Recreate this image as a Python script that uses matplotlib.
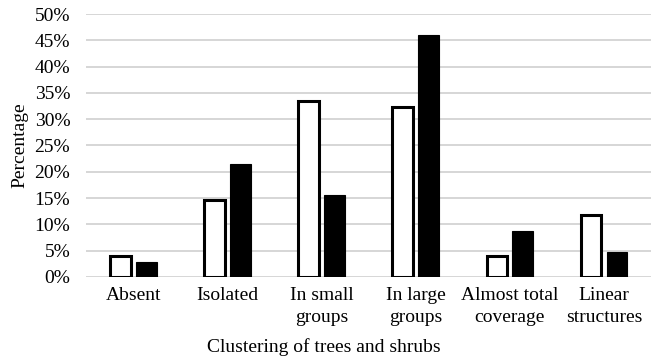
import matplotlib.pyplot as plt
import numpy as np

plt.rcParams['font.family'] = ['Liberation Serif', 'DejaVu Serif']

# clustering classes and share of sites (%) in the two groups
categories = ['Absent', 'Isolated', 'In small\ngroups', 'In large\ngroups',
              'Almost total\ncoverage', 'Linear\nstructures']
series_open = [3.9, 14.7, 33.4, 32.4, 3.9, 11.7]
series_filled = [2.85, 21.5, 15.5, 46.1, 8.7, 4.75]
yticks = np.arange(0, 51, 5)

fig = plt.figure(figsize=(6.68, 3.6), dpi=100)
ax = fig.add_axes([0.129, 0.2306, 0.8456, 0.7305])

x = np.arange(len(categories))
w = 0.22
gap = 0.055
ax.bar(x - (w + gap) / 2, series_open, w, facecolor='white', edgecolor='black',
       linewidth=2.2, zorder=3)
ax.bar(x + (w + gap) / 2, series_filled, w, facecolor='black', edgecolor='black',
       linewidth=0.8, zorder=3)

ax.set_xlim(-0.5, len(categories) - 0.5)
ax.set_ylim(0, 50)
ax.set_yticks(yticks)
ax.set_yticklabels([f'{v}%' for v in yticks])
ax.yaxis.grid(True, color='#d0d0d0', linewidth=1.2, zorder=0)
ax.set_xticks(x)
ax.set_xticklabels(categories, linespacing=1.4)
ax.tick_params(axis='both', length=0, labelsize=14)
ax.tick_params(axis='y', pad=11.5)
ax.tick_params(axis='x', pad=7)
for s in ax.spines.values():
    s.set_visible(False)

# axis titles
fig.text(20 / 668, 1 - 145 / 360, 'Percentage', rotation=90, fontsize=14,
         ha='center', va='center')
fig.text(324 / 668, 1 - 347 / 360, 'Clustering of trees and shrubs', fontsize=14,
         ha='center', va='center')

plt.savefig('out.png', dpi=100)
